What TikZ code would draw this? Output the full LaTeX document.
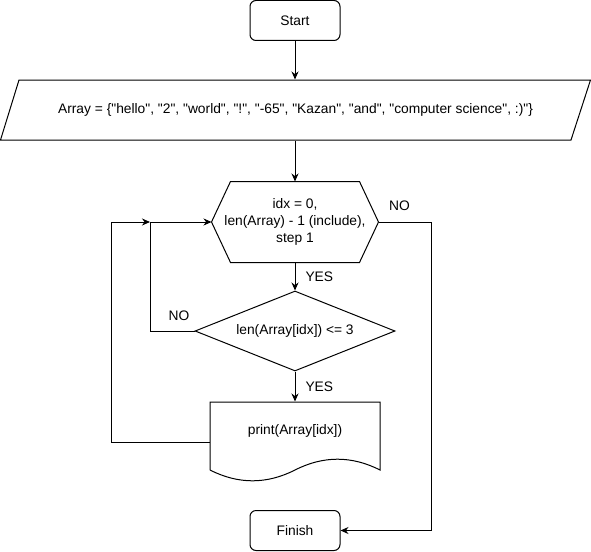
\documentclass[tikz,border=0pt]{standalone}
\usepackage{fontspec}
\setmainfont{Liberation Sans}[Ligatures=TeXOff]
\usetikzlibrary{arrows.meta,shapes.geometric,calc}
\begin{document}
\begin{tikzpicture}[x=1pt,y=-1pt, line width=1pt, line join=miter,
  font=\fontsize{13.8}{17}\selectfont,
  term/.style={draw, rounded corners=6pt, minimum width=90pt, minimum height=40pt, inner sep=0pt},
  plain/.style={inner sep=0pt, align=center},
  arr/.style={-{Stealth[length=8pt,width=7pt]}},
  lbl/.style={inner sep=0pt}]
\useasboundingbox (0,0) rectangle (591,551);

% nodes
\node[term] (start) at (295,20.5) {Start};
\node[plain, minimum width=550pt, minimum height=60pt] (arr) at (295.5,110)
  {Array = \{"hello", "2", "world", "!", "-65", "Kazan", "and", "computer science", :)"\}};
\draw (19,80) -- (590.5,80) -- (571,140) -- (0.5,140) -- cycle;

\node[plain, minimum width=166pt, minimum height=80pt] (loop) at (295,222)
  {idx = 0,\\len(Array) - 1 (include),\\step 1};
\draw (loop.west) -- ([xshift=19pt]loop.north west) -- ([xshift=-19pt]loop.north east)
  -- (loop.east) -- ([xshift=-19pt]loop.south east) -- ([xshift=19pt]loop.south west) -- cycle;

\node[draw, diamond, aspect=2.5, minimum width=200pt, minimum height=80pt, inner sep=0pt] (cond) at (295,331)
  {len(Array[idx]) <= 3};

\node[plain, minimum width=170pt, minimum height=80pt] (prt) at (295,442)
  {\raisebox{8pt}[0pt][0pt]{print(Array[idx])}};
\draw (210,470) -- (210,402) -- (380,402) -- (380,470)
  .. controls (351.67,455.6) and (323.33,455.6) .. (295,470)
  .. controls (266.67,484.4) and (238.33,484.4) .. (210,470);

\node[term] (fin) at (295,530.5) {Finish};

% helper coordinates
\coordinate (jin) at (150,222);
\coordinate (jout) at (111,222);
\coordinate (rr) at (431,222);

% connectors
\draw[arr] (start.south) -- (start.south |- arr.north);
\draw[arr] (arr.south -| loop.north) -- (loop.north);
\draw[arr] (loop.south) -- node[lbl, right=10pt] {YES} (cond.north);
\draw[arr] (cond.south) -- node[lbl, right=10pt] {YES} (prt.north);
\draw[arr] (cond.west) -- node[lbl, pos=0.35, above=10pt] {NO} (cond.west -| jin) -- (jin) -- (loop.west);
\draw[arr] (prt.west) -- (prt.west -| jout) -- (jout) -- (jin);
\draw[arr] (loop.east) -- node[lbl, pos=0.4, above=11pt] {NO} (rr) -- (fin.east -| rr) -- (fin.east);
\end{tikzpicture}
\end{document}
